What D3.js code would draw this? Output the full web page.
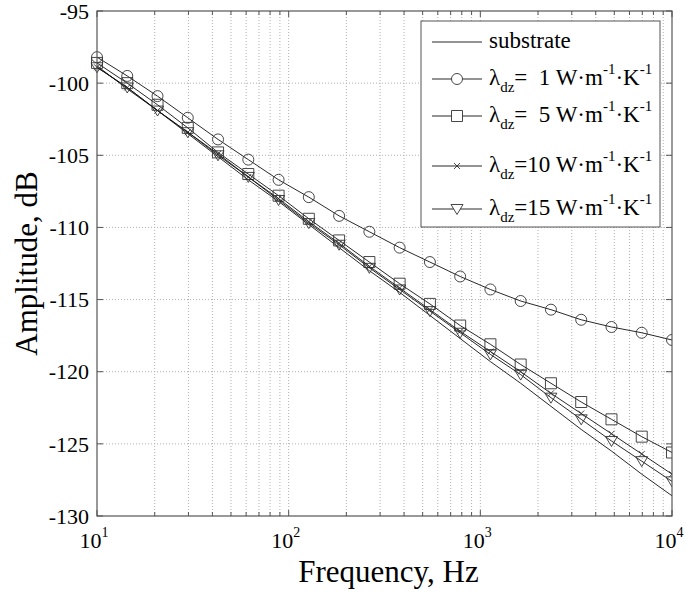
<!DOCTYPE html>
<html>
<head>
<meta charset="utf-8">
<script src="https://cdn.jsdelivr.net/npm/d3@7"></script>
<style>
  body { margin: 0; background: #fff; }
</style>
</head>
<body>
<div id="graphicContainer"></div>
<script>
// frequencies (Hz), 20 log-spaced points
var freqs = [10, 14.38, 20.69, 29.76, 42.81, 61.58, 88.59, 127.4, 183.3, 263.7,
             379.3, 545.6, 784.8, 1128.8, 1623.8, 2335.7, 3359.8, 4832.9, 6951.9, 10000]

var substrate = [-98.8, -100.4, -101.9, -103.5, -105.1, -106.7, -108.2, -109.8, -111.4, -113.0,
                 -114.5, -116.1, -117.7, -119.3, -120.8, -122.4, -124.0, -125.5, -127.1, -128.6]
var lambda1 = [-98.2, -99.5, -100.9, -102.4, -103.9, -105.3, -106.7, -107.9, -109.2, -110.3,
               -111.4, -112.4, -113.4, -114.3, -115.1, -115.7, -116.4, -116.9, -117.3, -117.8]
var lambda5 = [-98.6, -100.0, -101.5, -103.1, -104.8, -106.3, -107.8, -109.4, -110.9, -112.4,
               -113.9, -115.3, -116.8, -118.1, -119.5, -120.8, -122.1, -123.3, -124.5, -125.6]
var lambda10 = [-98.9, -100.3, -101.9, -103.4, -104.9, -106.5, -108.0, -109.6, -111.1, -112.7,
                -114.2, -115.7, -117.2, -118.6, -120.0, -121.5, -122.9, -124.3, -125.7, -127.1]
var lambda15 = [-98.9, -100.3, -101.9, -103.4, -105.0, -106.5, -108.1, -109.7, -111.2, -112.8,
                -114.3, -115.8, -117.3, -118.8, -120.2, -121.8, -123.3, -124.8, -126.2, -127.6]

var yTicks = [-95, -100, -105, -110, -115, -120, -125, -130]
var xTicks = [10, 100, 1000, 10000]
var xExps = ["1", "2", "3", "4"]

var series = [
  {name: "substrate", values: substrate, marker: "none"},
  {name: "1", values: lambda1, marker: "circle"},
  {name: "5", values: lambda5, marker: "square"},
  {name: "10", values: lambda10, marker: "cross"},
  {name: "15", values: lambda15, marker: "triangle"}
]

var width = 686, height = 612
var margin = {top: 11, right: 14, bottom: 96, left: 97}
var w = width - margin.left - margin.right
var h = height - margin.top - margin.bottom

var svg = d3.select("#graphicContainer").append("svg")
  .attr("width", width)
  .attr("height", height)
  .attr("font-family", "'Times New Roman', 'Liberation Serif', 'DejaVu Serif', serif")

var g = svg.append("g").attr("transform", "translate(" + margin.left + "," + margin.top + ")")

var x = d3.scaleLog().domain([10, 10000]).range([0, w])
var y = d3.scaleLinear().domain([-130, -95]).range([h, 0])

var axisColor = "#555"
var gridColor = "#b0b0b0"

// minor positions 2..9 per decade
var minor = []
for (var k = 1; k < 4; k++) {
  for (var m = 2; m <= 9; m++) minor.push(m * Math.pow(10, k))
}

// grid
var grid = g.append("g")
grid.selectAll(".gx")
  .data(minor.concat(xTicks.slice(1, 3)))
  .enter().append("line")
  .attr("x1", d => x(d)).attr("x2", d => x(d))
  .attr("y1", 0).attr("y2", h)
  .attr("stroke", gridColor).attr("stroke-width", 1)
  .attr("stroke-dasharray", "1,2")
grid.selectAll(".gy")
  .data(yTicks.slice(1, 7))
  .enter().append("line")
  .attr("x1", 0).attr("x2", w)
  .attr("y1", d => y(d)).attr("y2", d => y(d))
  .attr("stroke", gridColor).attr("stroke-width", 1)
  .attr("stroke-dasharray", "1,2")

// ticks inside, all four sides
var tl = 6, tm = 4
var ticks = g.append("g").attr("stroke", axisColor).attr("stroke-width", 1)
yTicks.forEach(function(v) {
  ticks.append("line").attr("x1", 0).attr("x2", tl).attr("y1", y(v)).attr("y2", y(v))
  ticks.append("line").attr("x1", w - tl).attr("x2", w).attr("y1", y(v)).attr("y2", y(v))
})
xTicks.forEach(function(v) {
  ticks.append("line").attr("x1", x(v)).attr("x2", x(v)).attr("y1", h).attr("y2", h - tl)
  ticks.append("line").attr("x1", x(v)).attr("x2", x(v)).attr("y1", 0).attr("y2", tl)
})
minor.forEach(function(v) {
  ticks.append("line").attr("x1", x(v)).attr("x2", x(v)).attr("y1", h).attr("y2", h - tm)
  ticks.append("line").attr("x1", x(v)).attr("x2", x(v)).attr("y1", 0).attr("y2", tm)
})

// clip on the right like the original
svg.append("defs").append("clipPath").attr("id", "clip")
  .append("rect").attr("x", -20).attr("y", -20).attr("width", w + 20).attr("height", h + 40)

var plot = g.append("g").attr("clip-path", "url(#clip)")

var line = d3.line()
  .x((d, i) => x(freqs[i]))
  .y(d => y(d))

function markerPath(type) {
  if (type == "circle") return "M5.5,0A5.5,5.5,0,1,1,-5.5,0A5.5,5.5,0,1,1,5.5,0Z"
  if (type == "square") return "M-5.5,-5.5H5.5V5.5H-5.5Z"
  if (type == "cross") return "M-3,-3L3,3M-3,3L3,-3"
  if (type == "triangle") return "M-6,-4.5H6L0,5.5Z"
  return ""
}

series.forEach(function(s) {
  plot.append("path")
    .datum(s.values)
    .attr("fill", "none")
    .attr("stroke", "#111")
    .attr("stroke-width", 0.9)
    .attr("d", line)
  if (s.marker != "none") {
    plot.selectAll(null)
      .data(s.values)
      .enter().append("path")
      .attr("transform", (d, i) => "translate(" + x(freqs[i]) + "," + y(d) + ")")
      .attr("d", markerPath(s.marker))
      .attr("fill", "none")
      .attr("stroke", "#333")
      .attr("stroke-width", 0.9)
  }
})

// frame
g.append("rect").attr("width", w).attr("height", h)
  .attr("fill", "none").attr("stroke", axisColor).attr("stroke-width", 1.2)

// y tick labels
g.selectAll(".ylab")
  .data(yTicks)
  .enter().append("text")
  .attr("x", -8)
  .attr("y", d => y(d))
  .attr("dy", "0.35em")
  .attr("text-anchor", "end")
  .attr("font-size", 22)
  .text(d => d)

// x tick labels 10^n
xTicks.forEach(function(v, i) {
  var t = g.append("text")
    .attr("x", x(v) - 3)
    .attr("y", h + 32)
    .attr("text-anchor", "middle")
    .attr("font-size", 22)
  t.append("tspan").text("10")
  t.append("tspan").attr("font-size", 14).attr("dy", -11).text(xExps[i])
})

// axis titles
svg.append("text")
  .attr("x", margin.left + w / 2 + 4)
  .attr("y", 582)
  .attr("text-anchor", "middle")
  .attr("font-size", 31)
  .text("Frequency, Hz")

svg.append("text")
  .attr("transform", "translate(37," + (margin.top + h / 2) + ") rotate(-90)")
  .attr("text-anchor", "middle")
  .attr("font-size", 31)
  .text("Amplitude, dB")

// legend
var legend = svg.append("g")
legend.append("rect")
  .attr("x", 421).attr("y", 21)
  .attr("width", 239).attr("height", 206)
  .attr("fill", "#fff").attr("stroke", axisColor).attr("stroke-width", 1)

var rowY = [42, 79, 116, 166, 209]
var lamLabels = "=  1,=  5,=10,=15".split(",")

series.forEach(function(s, i) {
  var ly = rowY[i]
  legend.append("line")
    .attr("x1", 432).attr("x2", 482).attr("y1", ly).attr("y2", ly)
    .attr("stroke", "#111").attr("stroke-width", 0.9)
  if (s.marker != "none") {
    legend.append("path")
      .attr("transform", "translate(457," + ly + ")")
      .attr("d", markerPath(s.marker))
      .attr("fill", "#fff").attr("stroke", "#333").attr("stroke-width", 0.9)
  }
  var t = legend.append("text")
    .attr("x", 489).attr("y", ly + 6)
    .attr("font-size", 23)
    .style("white-space", "pre")
  if (i == 0) {
    t.text("substrate")
  } else {
    t.append("tspan").text("λ")
    t.append("tspan").attr("font-size", 15).attr("dy", 7).text("dz")
    t.append("tspan").attr("dy", -7).text(lamLabels[i - 1] + " W·m")
    t.append("tspan").attr("font-size", 15).attr("dy", -11).text("-1")
    t.append("tspan").attr("dy", 11).text("·K")
    t.append("tspan").attr("font-size", 15).attr("dy", -11).text("-1")
  }
})
</script>
</body>
</html>
